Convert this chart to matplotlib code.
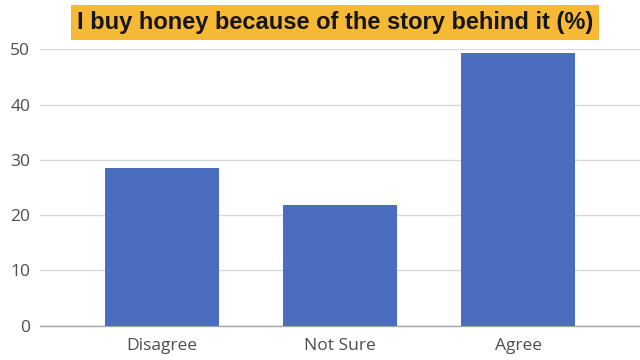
import matplotlib
matplotlib.use("Agg")
import matplotlib.pyplot as plt
from matplotlib import font_manager

categories = ["Disagree", "Not Sure", "Agree"]
values = [28.5, 21.8, 49.4]
yticks = [0, 10, 20, 30, 40, 50]
title = "I buy honey because of the story behind it (%)"

names = {f.name for f in font_manager.fontManager.ttflist}
title_font = "Liberation Sans Narrow" if "Liberation Sans Narrow" in names else "Liberation Sans"

fig = plt.figure(figsize=(6.4, 3.6), dpi=100)
ax = fig.add_axes([40/640, 1-325.7/360, 600/640, (325.7-49.3)/360])

x = list(range(len(categories)))
ax.bar(x, values, width=0.64, color="#4b6dc0", zorder=3)
ax.set_xlim(-0.685, 2.685)
ax.set_ylim(0, 50)
ax.set_yticks(yticks)
ax.set_xticks(x)
ax.set_xticklabels(categories)
ax.yaxis.grid(True, color="#d9d9d9", linewidth=1, zorder=0)
for s in ["top", "right", "left"]:
    ax.spines[s].set_visible(False)
ax.spines["bottom"].set_color("#a6a6a6")
ax.spines["bottom"].set_linewidth(1)
ax.tick_params(axis="both", length=0, labelsize=12.5, labelcolor="#4d4d4d")
ax.tick_params(axis="x", pad=9)
ax.tick_params(axis="y", pad=7)
for lab in ax.get_xticklabels() + ax.get_yticklabels():
    lab.set_fontfamily("Open Sans")

fig.text(335/640, 1-22.5/360, title, ha="center", va="center",
         fontsize=17, fontweight="bold", family=title_font, color="#151515",
         bbox=dict(boxstyle="square,pad=0.25", facecolor="#f6b935", edgecolor="none"))

fig.savefig("out.png", dpi=100)
